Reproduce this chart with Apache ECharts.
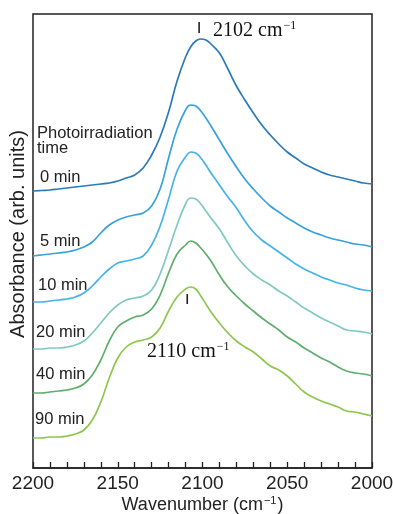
<!DOCTYPE html>
<html><head><meta charset="utf-8">
<script src="https://cdn.jsdelivr.net/npm/echarts@6/dist/echarts.min.js"></script>
<style>html,body{margin:0;padding:0;background:#fff}#c{width:393px;height:514px}</style>
</head><body><div id="c"></div>
<script>
// Wavenumber (cm^-1) sampling points
const wavenumbers = [2200,2195,2190,2185,2180,2175,2170,2165,2160,2155,2150,2145,2140,2135,2130,2125,2120,2115,2110,2107,2104,2101,2098,2095,2090,2085,2080,2075,2070,2065,2060,2055,2050,2045,2040,2035,2030,2025,2020,2015,2010,2005,2000];
// Absorbance (arb. units, curves vertically offset as in the figure)
const abs0min  = [277,277.5,278,279,280,281,282,283,284,285,287,290,293,300,313,331,356,387,411,421,427,429,428,424,415,399,382,368,355,343,333,324,316,310,304,300,296,293,291,289,287,285,284];
const abs5min  = [212,213,214,215,216,218,221,226,235,243,248,251,253,255,262,279,310,339,358,363,362,357,350,342,328,314,301,289,279,270,262,256,250,245,240,236,233,230,228,226,224,223,221];
const abs10min = [166,166,167,168,169,171,175,182,191,199,205,207,209,212,223,242,269,297,311,316,315,310,303,295,283,271,260,247,236,228,222,216,210,204,199,195,191,188,185,183,180,178,177];
const abs20min = [119,119,120,120,121,123,127,135,145,155,163,168,170,172,178,194,218,243,264,270,269,264,257,250,239,225,212,202,194,188,183,177,172,166,160,155,150,146,142,138,137,136,134];
const abs40min = [75,75,76,77,78,80,84,93,108,127,141,147,151,153,159,173,195,214,223,227,225,220,214,207,193,181,172,164,157,150,144,138,131,126,120,115,110,106,101,97,95,94,92];
const abs90min = [30,30,31,31,32,34,38,48,66,90,110,121,126,128,131,140,157,171,179,181,179,172,164,156,145,135,127,121,116,109,102,98,92,84,76,71,67,64,61,57,56,54,52];
const seriesNames = ['0 min','5 min','10 min','20 min','40 min','90 min'];
const xTickLabels = [2200,2150,2100,2050,2000];
// Peak annotations (data coordinates)
const peakNotes = [
  {wn: 2102, y0: 435, y1: 446, text: '2102 cm', lx: 2093.8, ly: 437},
  {wn: 2109, y0: 164, y1: 174, text: '2110 cm', lx: 2132.7, ly: 116}
];

const allSeries = [abs0min, abs5min, abs10min, abs20min, abs40min, abs90min];
const colors = ['#2b7bb9','#37a2dc','#45b3ea','#80c9c0','#5fae6c','#8ec74d'];
const SANS = '"Liberation Sans", Arial, sans-serif';
const SERIF = '"Liberation Serif", "Times New Roman", serif';

const chart = echarts.init(document.getElementById('c'), null, {renderer: 'canvas'});

chart.setOption({
  animation: false,
  grid: {left: 33, right: 21, top: 14, bottom: 46, outerBoundsMode: 'none', containLabel: false,
    show: true, borderColor: '#222', borderWidth: 1.5, backgroundColor: 'transparent'},
  xAxis: {
    type: 'value', min: 2000, max: 2200, interval: 50, inverse: true,
    axisLine: {show: true, lineStyle: {color: '#222', width: 1.5}},
    axisTick: {show: true, inside: true, length: 6, lineStyle: {color: '#222', width: 1.3}},
    minorTick: {show: true, splitNumber: 5, length: 6, lineStyle: {color: '#222', width: 1.3}},
    splitLine: {show: false},
    axisLabel: {fontSize: 19, color: '#222', margin: 6, fontFamily: SANS, showMinLabel: true, showMaxLabel: true,
      formatter: v => xTickLabels.indexOf(v) >= 0 ? String(v) : ''},
    name: '{a|Wavenumber (cm}{s|−1}{a|)}',
    nameLocation: 'middle', nameGap: 27, nameMoveOverlap: false,
    nameTextStyle: {
      verticalAlign: 'top',
      rich: {
        a: {fontSize: 18, fontFamily: SANS, color: '#222', lineHeight: 20},
        s: {fontSize: 11, fontFamily: SANS, color: '#222', lineHeight: 20, verticalAlign: 'top', padding: [0, 1, 0, 1]}
      }
    }
  },
  yAxis: {type: 'value', min: 0, max: 454, show: false},
  series: allSeries.map((arr, i) => ({
    name: seriesNames[i], type: 'line', symbol: 'none', smooth: 0.45,
    lineStyle: {color: colors[i], width: 1.7},
    data: wavenumbers.map((w, k) => [w, arr[k]])
  }))
});

function measure(text, font) {
  const ctx = document.createElement('canvas').getContext('2d');
  ctx.font = font;
  return ctx.measureText(text).width;
}

const graphics = [];
// Y axis title
graphics.push({type: 'text', x: 18, y: 234, rotation: Math.PI / 2,
  style: {text: 'Absorbance (arb. units)', fontSize: 20, fontFamily: SANS, fill: '#222', align: 'center', verticalAlign: 'middle'}});
// Labels on the left
const leftLabels = [
  {t: 'Photoirradiation', x: 37, y: 133},
  {t: 'time', x: 37, y: 148.5},
  {t: seriesNames[0], x: 40, y: 177.5},
  {t: seriesNames[1], x: 40, y: 241.5},
  {t: seriesNames[2], x: 38, y: 285.5},
  {t: seriesNames[3], x: 36, y: 332},
  {t: seriesNames[4], x: 36, y: 374},
  {t: seriesNames[5], x: 35, y: 419}
];
leftLabels.forEach(l => graphics.push({type: 'text', x: l.x, y: l.y,
  style: {text: l.t, fontSize: 16.5, fontFamily: SANS, fill: '#222', align: 'left', verticalAlign: 'middle'}}));
// Peak annotations
peakNotes.forEach(n => {
  const p0 = chart.convertToPixel({gridIndex: 0}, [n.wn, n.y0]);
  const p1 = chart.convertToPixel({gridIndex: 0}, [n.wn, n.y1]);
  graphics.push({type: 'line', shape: {x1: p0[0], y1: p0[1], x2: p1[0], y2: p1[1]}, style: {stroke: '#222', lineWidth: 1.6}});
  const lp = chart.convertToPixel({gridIndex: 0}, [n.lx, n.ly]);
  const font = '20px ' + SERIF;
  const w = measure(n.text, font);
  graphics.push({type: 'text', x: lp[0], y: lp[1],
    style: {text: n.text, fontSize: 20, fontFamily: SERIF, fill: '#111', align: 'left', verticalAlign: 'middle'}});
  graphics.push({type: 'text', x: lp[0] + w + 1, y: lp[1] - 5,
    style: {text: '−1', fontSize: 12, fontFamily: SERIF, fill: '#111', align: 'left', verticalAlign: 'middle'}});
});
chart.setOption({graphic: graphics});
</script>
</body></html>
